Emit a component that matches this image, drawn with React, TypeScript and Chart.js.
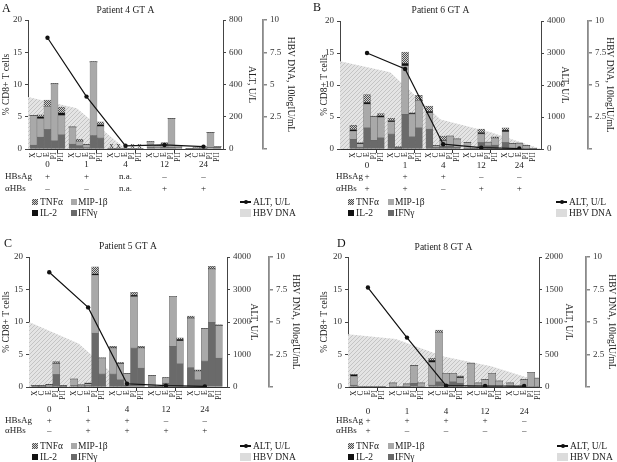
import React, { useEffect, useRef } from 'react';
import { Chart, registerables } from 'chart.js';

Chart.register(...registerables);

const FONT = "'Liberation Serif', 'DejaVu Serif', 'Times New Roman', serif";

const WEEKS = ['0', '1', '4', '12', '24'];
const ANTIGENS = ['X', 'C', 'E', 'PI', 'PII'];
const LEFT_TITLE = '% CD8+ T cells';
const ALT_TITLE = 'ALT, U/L';
const HBV_TITLE = 'HBV DNA, 10logIU/mL';
const HBV_TICKS = [0, 2.5, 5, 7.5, 10];

// rows = weeks (0,1,4,12,24); columns = antigens (X, C, E, PI, PII)

// ---------- Panel A : Patient 4 ----------
const A_TITLE = 'Patient 4 GT A';
const A_HBSAG = ['+', '+', 'n.a.', '–', '–'];
const A_AHBS = ['–', '–', 'n.a.', '+', '+'];
const A_NA = [false, false, true, false, false];
const A_ALT = [690, 325, 20, 25, 15];
const A_ALT_MAX = 800;
const A_ALT_STEP = 200;
const A_HBV = [4.03, 3.15, 0, 0, 0];
const A_IFN = [
  [0.6, 1.85, 3.0, 1.25, 2.2],
  [0.75, 0.5, 0.2, 2.1, 1.7],
  [0, 0, 0, 0, 0],
  [0.3, 0.2, 0.3, 0.3, 0.2],
  [0.05, 0.05, 0.1, 0.25, 0.35],
];
const A_MIP = [
  [4.6, 2.85, 3.6, 8.85, 3.0],
  [2.65, 0.7, 0.45, 11.4, 1.8],
  [0, 0, 0, 0, 0],
  [0.8, 0.3, 0.45, 4.4, 0.3],
  [0.05, 0.1, 0.2, 2.3, 0],
];
const A_IL2 = [
  [0, 0.3, 0, 0, 0.4],
  [0, 0, 0, 0, 0.3],
  [0, 0, 0, 0, 0],
  [0, 0, 0, 0, 0],
  [0, 0, 0, 0, 0],
];
const A_TNF = [
  [0, 0.3, 1.0, 0, 0.9],
  [0, 0.3, 0, 0, 0.4],
  [0, 0, 0, 0, 0],
  [0, 0, 0.25, 0, 0],
  [0, 0, 0, 0, 0],
];

// ---------- Panel B : Patient 6 ----------
const B_TITLE = 'Patient 6 GT A';
const B_HBSAG = ['+', '+', '+', '–', '–'];
const B_AHBS = ['+', '+', '–', '+', '+'];
const B_NA = [false, false, false, false, false];
const B_ALT = [3000, 2500, 150, 40, 15];
const B_ALT_MAX = 4000;
const B_ALT_STEP = 1000;
const B_HBV = [6.85, 6.0, 2.3, 1.3, 0];
const B_IFN = [
  [1.5, 0.3, 3.3, 1.35, 1.75],
  [2.35, 0.1, 5.4, 1.9, 3.3],
  [3.1, 0.3, 0.4, 0.4, 0.3],
  [0.1, 0, 1.0, 0.5, 0.6],
  [1.0, 0.1, 0.1, 0.1, 0.1],
];
const B_MIP = [
  [1.3, 0.5, 3.7, 3.7, 3.2],
  [1.9, 0.1, 7.6, 3.55, 4.3],
  [2.55, 0.2, 0.9, 1.6, 1.25],
  [0.9, 0.05, 1.35, 0.55, 1.1],
  [1.7, 0.75, 0.8, 0.45, 0],
];
const B_IL2 = [
  [0.25, 0.15, 0.3, 0, 0.25],
  [0.2, 0.15, 0.4, 0.15, 0],
  [0.25, 0, 0.1, 0, 0],
  [0, 0, 0.2, 0, 0],
  [0.25, 0, 0, 0, 0],
];
const B_TNF = [
  [0.65, 0.05, 1.2, 0.1, 0.35],
  [0.35, 0, 1.75, 0.1, 0.8],
  [0.8, 0, 0.6, 0, 0],
  [0, 0, 0.55, 0, 0.2],
  [0.35, 0, 0, 0, 0],
];

// ---------- Panel C : Patient 5 ----------
const C_TITLE = 'Patient 5 GT A';
const C_HBSAG = ['+', '+', '+', '–', '–'];
const C_AHBS = ['–', '+', '+', '+', '+'];
const C_NA = [false, false, false, false, false];
const C_ALT = [3530, 2450, 100, 40, 20];
const C_ALT_MAX = 4000;
const C_ALT_STEP = 1000;
const C_HBV = [5.0, 3.35, 0, 0, 0];
const C_IFN = [
  [0.1, 0.1, 0.15, 1.9, 0.1],
  [0.2, 0.15, 0.2, 8.3, 2.0],
  [2.0, 1.1, 0.3, 6.0, 2.9],
  [0.05, 0.05, 0.6, 6.25, 3.55],
  [3.0, 1.1, 4.0, 9.95, 4.45],
];
const C_MIP = [
  [0.1, 0.1, 0.2, 1.7, 0.1],
  [1.0, 0.15, 0.3, 8.9, 2.45],
  [4.0, 2.5, 1.75, 7.9, 3.1],
  [1.7, 0.05, 0.8, 7.7, 3.55],
  [7.55, 1.35, 5.0, 8.2, 5.0],
];
const C_IL2 = [
  [0, 0, 0, 0.1, 0],
  [0, 0, 0.1, 0.2, 0],
  [0, 0, 0, 0.25, 0],
  [0, 0, 0, 0, 0.25],
  [0.1, 0, 0, 0, 0],
];
const C_TNF = [
  [0, 0, 0, 0.2, 0],
  [0, 0, 0, 1.1, 0],
  [0.25, 0.2, 0, 0.4, 0.25],
  [0, 0, 0, 0, 0.2],
  [0.25, 0.2, 0, 0.4, 0.15],
];

// ---------- Panel D : Patient 8 ----------
const D_TITLE = 'Patient 8 GT A';
const D_HBSAG = ['+', '+', '+', '+', '–'];
const D_AHBS = ['+', '–', '–', '–', '–'];
const D_NA = [false, false, false, false, false];
const D_ALT = [1530, 760, 20, 15, 15];
const D_ALT_MAX = 2000;
const D_ALT_STEP = 500;
const D_HBV = [4.05, 3.7, 2.35, 1.6, 0.45];
const D_IFN = [
  [0.3, 0, 0, 0, 0],
  [0, 0, 0.1, 0.55, 0],
  [0.3, 0.8, 0.4, 0.8, 0.6],
  [0.1, 0, 0.1, 0, 0],
  [0, 0, 0, 0, 0],
];
const D_MIP = [
  [1.35, 0, 0, 0, 0],
  [0.6, 0, 0.35, 2.75, 0.6],
  [3.5, 7.6, 1.7, 1.3, 0.8],
  [3.55, 0.6, 1.0, 2.1, 0.9],
  [0.6, 0, 1.1, 2.25, 1.35],
];
const D_IL2 = [
  [0.25, 0, 0, 0, 0],
  [0, 0, 0, 0, 0],
  [0.3, 0, 0, 0, 0.2],
  [0, 0, 0, 0, 0],
  [0, 0, 0, 0, 0],
];
const D_TNF = [
  [0.05, 0, 0, 0, 0],
  [0, 0, 0, 0, 0],
  [0.3, 0.35, 0, 0, 0.1],
  [0, 0, 0, 0, 0],
  [0, 0, 0, 0, 0],
];

type Layout = {
  x: number; y: number; w: number; h: number;
  leftW: number; altW: number; hbvW: number;
  top: number; bottom: number; titleY: number;
  xH: number; xPad: number; lh: number;
  xMin: number; xMax: number; barW: number;
  yTitle: number; altTitle: number; hbvTitle: number;
  headerX: number; letterX: number; letterY: number;
  leg1: number; leg2: number; legX: number; legX2: number; legR: number;
};

const PANELS = [
  {
    letter: 'A', title: A_TITLE, hbsag: A_HBSAG, ahbs: A_AHBS, na: A_NA, alt: A_ALT, altMax: A_ALT_MAX, altStep: A_ALT_STEP,
    hbv: A_HBV, ifn: A_IFN, mip: A_MIP, il2: A_IL2, tnf: A_TNF,
    L: { x: 0, y: 0, w: 308, h: 228, leftW: 28, altW: 40, hbvW: 45, top: 20, bottom: 149, titleY: 10, xH: 45, xPad: 6.15, lh: 11.7,
      xMin: -0.5, xMax: 4.5, barW: 7, yTitle: 6, altTitle: 251, hbvTitle: 290, headerX: 5, letterX: 2, letterY: 8,
      leg1: 202, leg2: 213, legX: 32, legX2: 71, legR: 240 } as Layout,
  },
  {
    letter: 'B', title: B_TITLE, hbsag: B_HBSAG, ahbs: B_AHBS, na: B_NA, alt: B_ALT, altMax: B_ALT_MAX, altStep: B_ALT_STEP,
    hbv: B_HBV, ifn: B_IFN, mip: B_MIP, il2: B_IL2, tnf: B_TNF,
    L: { x: 308, y: 0, w: 309, h: 228, leftW: 32, altW: 47, hbvW: 29, top: 21, bottom: 149, titleY: 10, xH: 45, xPad: 7, lh: 11.3,
      xMin: -0.71, xMax: 4.57, barW: 6.9, yTitle: 16, altTitle: 256.7, hbvTitle: 301.7, headerX: 28, letterX: 5, letterY: 7,
      leg1: 202, leg2: 213, legX: 40, legX2: 80, legR: 248 } as Layout,
  },
  {
    letter: 'C', title: C_TITLE, hbsag: C_HBSAG, ahbs: C_AHBS, na: C_NA, alt: C_ALT, altMax: C_ALT_MAX, altStep: C_ALT_STEP,
    hbv: C_HBV, ifn: C_IFN, mip: C_MIP, il2: C_IL2, tnf: C_TNF,
    L: { x: 0, y: 228, w: 308, h: 234, leftW: 29, altW: 42, hbvW: 39, top: 29, bottom: 159, titleY: 18.3, xH: 50, xPad: 13.8, lh: 10.4,
      xMin: -0.52, xMax: 4.57, barW: 7, yTitle: 6, altTitle: 253.3, hbvTitle: 295, headerX: 5, letterX: 4, letterY: 15,
      leg1: 218, leg2: 229, legX: 32, legX2: 71, legR: 240 } as Layout,
  },
  {
    letter: 'D', title: D_TITLE, hbsag: D_HBSAG, ahbs: D_AHBS, na: D_NA, alt: D_ALT, altMax: D_ALT_MAX, altStep: D_ALT_STEP,
    hbv: D_HBV, ifn: D_IFN, mip: D_MIP, il2: D_IL2, tnf: D_TNF,
    L: { x: 308, y: 228, w: 309, h: 234, leftW: 40, altW: 47, hbvW: 31, top: 29, bottom: 159, titleY: 19.3, xH: 50, xPad: 15.5, lh: 9.6,
      xMin: -0.51, xMax: 4.38, barW: 7, yTitle: 16, altTitle: 260, hbvTitle: 304, headerX: 28, letterX: 29, letterY: 15,
      leg1: 218, leg2: 229, legX: 40, legX2: 80, legR: 249 } as Layout,
  },
];

const COL_IFN = '#6a6a6a';
const COL_MIP = '#a9a9a9';
const COL_IL2 = '#111111';
const TICK_LEN = 4;
const TFONT = 9.5;
const TLH = TFONT * 1.2;
const SLOT_INDEX = [-2, -1, 0, 1, 2];

function makeChecker(): CanvasPattern | string {
  const c = document.createElement('canvas');
  c.width = 2; c.height = 2;
  const g = c.getContext('2d');
  if (!g) return '#888';
  g.fillStyle = '#d0d0d0'; g.fillRect(0, 0, 2, 2);
  g.fillStyle = '#505050'; g.fillRect(0, 0, 1, 1); g.fillRect(1, 1, 1, 1);
  return g.createPattern(c, 'repeat') || '#888';
}

function makeHatch(): CanvasPattern | string {
  const c = document.createElement('canvas');
  c.width = 4; c.height = 4;
  const g = c.getContext('2d');
  if (!g) return '#ddd';
  g.fillStyle = '#e4e4e4'; g.fillRect(0, 0, 4, 4);
  g.fillStyle = '#c4c4c4';
  for (let i = 0; i < 4; i++) g.fillRect(i, 3 - i, 1, 1);
  return g.createPattern(c, 'repeat') || '#ddd';
}

function Panel({ p }: { p: any }) {
  const ref = useRef<HTMLCanvasElement>(null);
  const L: Layout = p.L;
  useEffect(() => {
    if (!ref.current) return;
    const checker = makeChecker();
    const hatch = makeHatch();
    const pxPerUnit = (L.w - L.leftW - L.altW - L.hbvW) / (L.xMax - L.xMin);
    const slot = L.barW / pxPerUnit;
    const cyto = [
      { name: 'IFNγ', m: p.ifn, color: COL_IFN },
      { name: 'MIP-1β', m: p.mip, color: COL_MIP },
      { name: 'IL-2', m: p.il2, color: COL_IL2 },
      { name: 'TNFα', m: p.tnf, color: checker },
    ];
    const datasets: any[] = cyto.map((c) => ({
      type: 'bar',
      label: c.name,
      stack: 'cd8',
      data: WEEKS.flatMap((_, i) => ANTIGENS.map((__, j) => ({ x: i + SLOT_INDEX[j] * slot, y: c.m[i][j] }))),
      backgroundColor: c.color,
      borderColor: 'rgba(90,90,90,0.85)',
      borderWidth: (ctx: any) => (ctx.raw && ctx.raw.y > 0 ? 0.5 : 0),
      borderSkipped: false,
      barThickness: L.barW,
      xAxisID: 'x',
      yAxisID: 'y',
      order: 5,
    }));
    datasets.push({
      type: 'line',
      label: 'ALT, U/L',
      data: p.alt.map((v: number, i: number) => ({ x: i, y: v })),
      borderColor: '#111',
      borderWidth: 1.2,
      pointRadius: 2.2,
      pointBackgroundColor: '#111',
      pointBorderWidth: 0,
      xAxisID: 'x',
      yAxisID: 'y1',
      order: 0,
    });
    datasets.push({
      type: 'line',
      label: 'HBV DNA',
      data: p.hbv.map((v: number, k: number) => ({ x: L.xMin + (k * (L.xMax - L.xMin)) / (p.hbv.length - 1), y: v })),
      borderWidth: 0,
      pointRadius: 0,
      fill: 'origin',
      backgroundColor: hatch,
      xAxisID: 'x',
      yAxisID: 'y2',
      order: 10,
    });

    const annot = {
      id: 'annot',
      afterDatasetsDraw(chart: any) {
        const ctx = chart.ctx;
        const area = chart.chartArea;
        const bars = chart.getDatasetMeta(0).data;
        ctx.save();
        ctx.fillStyle = '#222';
        ctx.font = `7.5px ${FONT}`;
        ctx.textAlign = 'right';
        ctx.textBaseline = 'middle';
        bars.forEach((el: any, k: number) => {
          ctx.save();
          ctx.translate(el.x, area.bottom + 3.5);
          ctx.rotate(-Math.PI / 2);
          ctx.fillText(ANTIGENS[k % ANTIGENS.length], 0, 0);
          ctx.restore();
        });
        const ys = chart.scales.y;
        ctx.font = `8px ${FONT}`;
        ctx.textAlign = 'center';
        p.na.forEach((flag: boolean, i: number) => {
          if (!flag) return;
          for (let j = 0; j < ANTIGENS.length; j++) {
            const el = bars[i * ANTIGENS.length + j];
            ctx.fillText('x', el.x, ys.getPixelForValue(0.5));
          }
        });
        ctx.font = `9px ${FONT}`;
        ctx.textAlign = 'left';
        const y0 = area.bottom + TICK_LEN + L.xPad + L.lh / 2;
        ctx.fillText('HBsAg', L.headerX, y0 + L.lh);
        ctx.fillText('αHBs', L.headerX, y0 + 2 * L.lh);
        ctx.restore();
      },
    };

    const titlePadTop = L.titleY - TLH / 2;
    const titlePadBot = L.top - titlePadTop - TLH;
    const altOff = L.w - L.hbvW - L.altTitle;
    const hbvOff = L.w - L.hbvTitle;
    const halfTicks: number[] = [];
    for (let v = 0; v <= 4; v += 0.5) halfTicks.push(v);

    const chart = new Chart(ref.current, {
      type: 'bar',
      data: { datasets },
      plugins: [annot],
      options: {
        responsive: false,
        animation: false,
        devicePixelRatio: 1,
        layout: { padding: { left: 0, right: 0, top: 0, bottom: L.h - L.bottom - L.xH } },
        plugins: {
          legend: { display: false },
          tooltip: { enabled: false },
          title: {
            display: true,
            text: p.title,
            fullSize: false,
            color: '#222',
            font: { family: FONT, size: TFONT, weight: 'normal', lineHeight: 1.2 },
            padding: { top: titlePadTop, bottom: titlePadBot },
          },
        },
        scales: {
          x: {
            type: 'linear',
            position: 'bottom',
            min: L.xMin,
            max: L.xMax,
            offset: false,
            afterBuildTicks: (s: any) => { s.ticks = halfTicks.map((v) => ({ value: v })); },
            afterFit: (s: any) => { s.height = L.xH; },
            ticks: {
              autoSkip: false,
              maxRotation: 0,
              minRotation: 0,
              padding: L.xPad,
              color: '#222',
              font: { family: FONT, size: 9, lineHeight: `${L.lh}px` },
              callback: (v: any) => {
                const n = Number(v);
                if (!Number.isInteger(n)) return '';
                return [WEEKS[n], p.hbsag[n], p.ahbs[n]];
              },
            },
            grid: {
              drawOnChartArea: false,
              drawTicks: true,
              tickLength: TICK_LEN,
              color: (ctx: any) => (ctx.tick && !Number.isInteger(ctx.tick.value) ? '#333' : 'rgba(0,0,0,0)'),
            },
            border: { color: '#333', width: 1 },
          },
          y: {
            type: 'linear',
            position: 'left',
            stacked: true,
            min: 0,
            max: 20,
            afterFit: (s: any) => { s.width = L.leftW; },
            ticks: { stepSize: 5, padding: 3, color: '#333', font: { family: FONT, size: 9 } },
            grid: { drawOnChartArea: false, tickLength: 3, color: '#444' },
            border: { color: '#444', width: 1 },
            title: {
              display: true,
              text: LEFT_TITLE,
              color: '#222',
              font: { family: FONT, size: TFONT, lineHeight: 1.2 },
              padding: { top: Math.max(0, L.yTitle - TLH / 2), bottom: 0 },
            },
          },
          y1: {
            type: 'linear',
            position: 'right',
            weight: 0,
            min: 0,
            max: p.altMax,
            afterFit: (s: any) => { s.width = L.altW; },
            ticks: {
              stepSize: p.altStep,
              padding: 3,
              color: '#333',
              font: { family: FONT, size: 9 },
              callback: (v: any) => String(v),
            },
            grid: { drawOnChartArea: false, tickLength: 3, color: '#444' },
            border: { color: '#444', width: 1 },
            title: {
              display: true,
              text: ALT_TITLE,
              color: '#222',
              font: { family: FONT, size: TFONT, lineHeight: 1.2 },
              padding: { top: Math.max(0, altOff - TLH / 2), bottom: 0 },
            },
          },
          y2: {
            type: 'linear',
            position: 'right',
            weight: 1,
            min: 0,
            max: 10,
            afterFit: (s: any) => { s.width = L.hbvW; },
            afterBuildTicks: (s: any) => { s.ticks = HBV_TICKS.map((v) => ({ value: v })); },
            ticks: {
              padding: 3,
              color: '#333',
              font: { family: FONT, size: 9 },
              callback: (v: any) => (Number(v) === 0 ? '' : String(v)),
            },
            grid: { drawOnChartArea: false, tickLength: 4, color: '#888', lineWidth: 1.5 },
            border: { color: '#8a8a8a', width: 1.8 },
            title: {
              display: true,
              text: HBV_TITLE,
              color: '#222',
              font: { family: FONT, size: TFONT, lineHeight: 1.2 },
              padding: { top: Math.max(0, hbvOff - TLH / 2), bottom: 0 },
            },
          },
        },
      } as any,
    });
    return () => chart.destroy();
  }, []);

  const txt = (x: number, y: number, s: string) => (
    <div style={{ position: 'absolute', left: x, top: y - 6, fontSize: 9.5, lineHeight: '12px', fontFamily: FONT, color: '#222', whiteSpace: 'nowrap' }}>{s}</div>
  );
  const sw = (x: number, y: number, bg: string) => (
    <div style={{ position: 'absolute', left: x, top: y - 3, width: 6, height: 6, background: bg }} />
  );
  const checkerCss = 'repeating-conic-gradient(#505050 0% 25%, #d0d0d0 0% 50%) 0 0 / 2px 2px';

  return (
    <div style={{ position: 'absolute', left: L.x, top: L.y, width: L.w, height: L.h }}>
      <canvas ref={ref} width={L.w} height={L.h} style={{ position: 'absolute', left: 0, top: 0, width: L.w, height: L.h }} />
      <div style={{ position: 'absolute', left: L.letterX, top: L.letterY - 7, fontSize: 12, lineHeight: '14px', fontFamily: FONT, color: '#111' }}>{p.letter}</div>
      {sw(L.legX, L.leg1, checkerCss)}
      {txt(L.legX + 8, L.leg1, 'TNFα')}
      {sw(L.legX2, L.leg1, COL_MIP)}
      {txt(L.legX2 + 7, L.leg1, 'MIP-1β')}
      {sw(L.legX, L.leg2, COL_IL2)}
      {txt(L.legX + 8, L.leg2, 'IL-2')}
      {sw(L.legX2, L.leg2, COL_IFN)}
      {txt(L.legX2 + 7, L.leg2, 'IFNγ')}
      <div style={{ position: 'absolute', left: L.legR, top: L.leg1 - 0.6, width: 11, height: 1.2, background: '#111' }} />
      <div style={{ position: 'absolute', left: L.legR + 3.5, top: L.leg1 - 2, width: 4, height: 4, borderRadius: 2, background: '#111' }} />
      {txt(L.legR + 13, L.leg1, ALT_TITLE)}
      <div style={{ position: 'absolute', left: L.legR, top: L.leg2 - 4, width: 11, height: 8, background: '#dcdcdc' }} />
      {txt(L.legR + 13, L.leg2, 'HBV DNA')}
    </div>
  );
}

export default function App() {
  return (
    <div style={{ position: 'absolute', left: 0, top: 0, width: 617, height: 462, background: '#fff', overflow: 'hidden' }}>
      {PANELS.map((p) => <Panel key={p.letter} p={p} />)}
    </div>
  );
}
